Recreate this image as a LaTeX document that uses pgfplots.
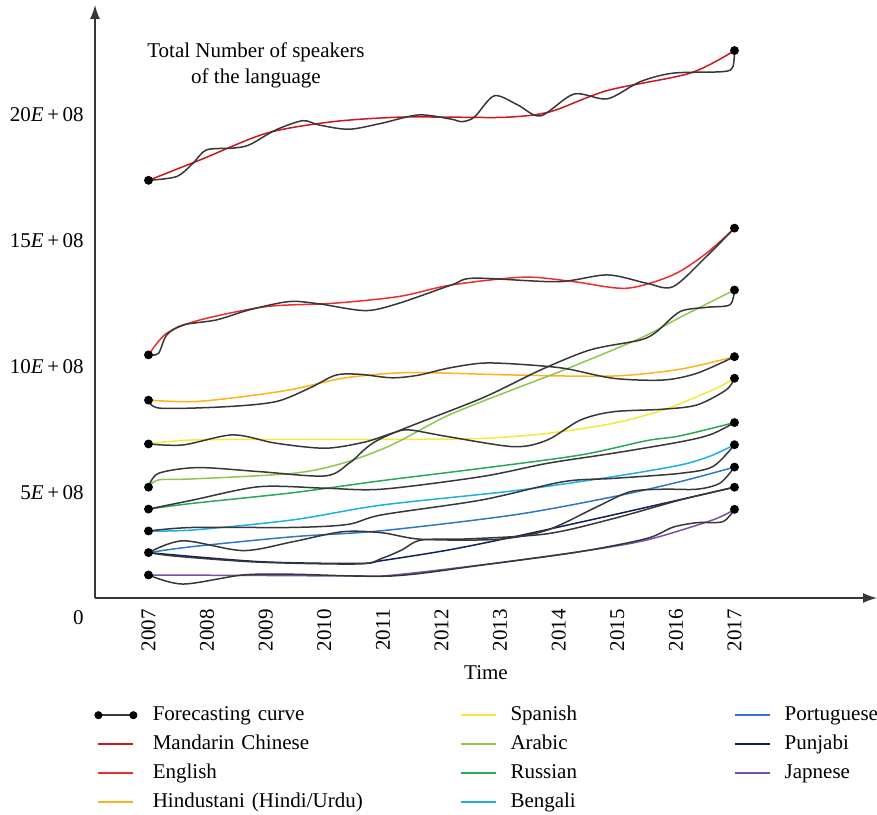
\documentclass[border=0pt]{standalone}
\usepackage{pgfplots}
\pgfplotsset{compat=1.18}
\usetikzlibrary{arrows.meta}
\usepackage{fontspec}
\setmainfont{Liberation Serif}

\definecolor{cMandarin}{RGB}{205,22,30}
\definecolor{cEnglish}{RGB}{240,45,45}
\definecolor{cHindi}{RGB}{255,178,25}
\definecolor{cSpanish}{RGB}{246,232,60}
\definecolor{cArabic}{RGB}{140,200,80}
\definecolor{cRussian}{RGB}{40,170,85}
\definecolor{cBengali}{RGB}{30,175,230}
\definecolor{cPortuguese}{RGB}{45,120,200}
\definecolor{cPunjabi}{RGB}{15,30,100}
\definecolor{cJapanese}{RGB}{120,80,170}
\definecolor{cForecast}{RGB}{55,55,55}

\pgfplotsset{
  lang/.style={smooth, line width=0.75pt, no marks, forget plot},
  fc/.style={smooth, cForecast, line width=0.75pt, no marks, forget plot},
}

\begin{document}
\fontsize{10.5}{13}\selectfont
\begin{tikzpicture}
\path[use as bounding box] (-47.5pt,-108pt) rectangle (391pt,299pt);
\begin{axis}[
  at={(0pt,0pt)}, anchor=south west,
  scale only axis, width=391pt, height=296.5pt,
  xmin=2006.087, xmax=2019.432, ymin=0.795, ymax=24.37,
  axis lines=left,
  axis line style={cForecast, line width=0.75pt, -{Latex[length=7pt,width=5pt]}},
  clip=false,
  xtick={2007,2008,2009,2010,2011,2012,2013,2014,2015,2016,2017},
  xticklabels={2007,2008,2009,2010,2011,2012,2013,2014,2015,2016,2017},
  ytick={5,10,15,20},
  yticklabels={5\textit{E}\,+\,08,10\textit{E}\,+\,08,15\textit{E}\,+\,08,20\textit{E}\,+\,08},
  major tick length=0pt,
  tick label style={font=\fontsize{10.5}{12}\selectfont},
  xticklabel style={rotate=90, anchor=east, inner sep=0pt},
  xticklabel shift=5.5pt,
  yticklabel style={anchor=east, inner sep=0pt},
  yticklabel shift=5.5pt,
  xlabel={Time},
  xlabel style={at={(axis description cs:0.5,0)}, anchor=center, yshift=-37.5pt, font=\fontsize{10.5}{12}\selectfont},
  legend style={at={(0,0)}, anchor=north west, xshift=-0.3pt, yshift=-53.6pt,
    draw=none, fill=none, inner sep=0pt, outer sep=0pt,
    column sep=0pt, row sep=4.5pt, font=\fontsize{10.5}{12}\selectfont,
    nodes={inner sep=0pt, text height=7.5pt, text depth=2.5pt}},
  legend cell align=left,
  legend columns=4, transpose legend,
  legend image code/.code={\draw[#1, line width=0.8pt] (0pt,0pt) -- (17.5pt,0pt); \path (24.75pt,0pt);},
]

% language series
\addplot[lang, cMandarin] coordinates {(2007,17.4) (2007.88,18.21) (2009.01,19.27) (2010.14,19.73) (2011.27,19.91) (2012.17,19.91) (2013.13,19.91) (2013.86,20.13) (2014.83,20.97) (2016.24,21.66) (2017,22.56)};
\addplot[lang, cEnglish] coordinates {(2007,10.46) (2007.31,11.32) (2007.88,11.85) (2009.01,12.38) (2010.14,12.51) (2011.27,12.78) (2012.17,13.24) (2013.41,13.55) (2014.26,13.37) (2015.16,13.11) (2015.95,13.64) (2016.52,14.50) (2017,15.50)};
\addplot[lang, cHindi] coordinates {(2007,8.66) (2007.76,8.60) (2008.61,8.80) (2009.46,9.09) (2010.31,9.53) (2011.15,9.73) (2011.83,9.75) (2013.24,9.66) (2014.93,9.62) (2016.07,9.89) (2017,10.39)};
\addplot[lang, cSpanish] coordinates {(2007,6.92) (2007.76,7.08) (2009.46,7.10) (2011.15,7.10) (2012.68,7.14) (2013.81,7.34) (2014.93,7.74) (2015.78,8.27) (2016.63,9.07) (2017,9.53)};
\addplot[lang, cArabic] coordinates {(2007,5.2) (2007.17,5.49) (2007.76,5.53) (2009.46,5.75) (2010.31,6.15) (2011.15,6.88) (2012.11,8.05) (2013.24,9.1) (2014.09,9.86) (2015.39,11.12) (2016.07,11.95) (2017,13.04)};
\addplot[lang, cRussian] coordinates {(2007,4.33) (2007.76,4.56) (2009.46,4.98) (2010.98,5.46) (2012.68,5.95) (2014.37,6.48) (2015.5,7.05) (2016.07,7.24) (2017,7.77)};
\addplot[lang, cBengali] coordinates {(2007,3.46) (2007.76,3.5) (2009.46,3.9) (2010.98,4.49) (2013.24,5.06) (2014.93,5.62) (2016.07,6.08) (2016.6,6.45) (2017,6.89)};
\addplot[lang, cPortuguese] coordinates {(2007,2.6) (2007.76,2.84) (2009.46,3.23) (2010.98,3.47) (2013.24,4.1) (2014.93,4.82) (2016.07,5.42) (2017,6.0)};
\addplot[lang, cPunjabi] coordinates {(2007,2.6) (2008.89,2.24) (2010.59,2.17) (2010.98,2.28) (2012.11,2.7) (2013.24,3.23) (2014.93,4.1) (2017,5.2)};
\addplot[lang, cJapanese] coordinates {(2007,1.71) (2009,1.69) (2010.59,1.67) (2011.15,1.7) (2012.68,2.11) (2014.37,2.64) (2015.5,3.1) (2016.63,3.9) (2017,4.32)};

% forecasting curves
\addplot[fc] coordinates {(2007,17.4) (2007.48,17.55) (2007.76,18.08) (2007.99,18.61) (2008.44,18.68) (2008.72,18.81) (2009.17,19.40) (2009.63,19.77) (2009.91,19.60) (2010.42,19.43) (2010.98,19.67) (2011.61,20.0) (2012.17,19.83) (2012.34,19.73) (2012.56,19.91) (2012.90,20.76) (2013.30,20.40) (2013.69,19.96) (2014.26,20.83) (2014.83,20.64) (2015.39,21.32) (2015.95,21.66) (2016.80,21.72) (2016.97,21.9) (2017,22.56)};
\addplot[fc] coordinates {(2007,10.46) (2007.17,10.52) (2007.31,11.25) (2007.59,11.65) (2008.16,11.85) (2008.72,12.25) (2009.40,12.58) (2009.91,12.49) (2010.70,12.22) (2011.27,12.51) (2012.17,13.24) (2012.56,13.51) (2013.98,13.37) (2014.83,13.64) (2015.50,13.31) (2015.95,13.17) (2016.52,14.37) (2017,15.50)};
\addplot[fc] coordinates {(2007,8.66) (2007.2,8.34) (2008.32,8.40) (2009.17,8.60) (2009.74,9.13) (2010.19,9.65) (2010.59,9.69) (2011.15,9.55) (2011.6,9.65) (2012.11,9.93) (2012.68,10.13) (2013.24,10.10) (2014.08,9.93) (2014.93,9.53) (2015.78,9.46) (2016.36,9.73) (2017,10.39)};
\addplot[fc] coordinates {(2007,6.92) (2007.59,6.88) (2008.44,7.28) (2009.17,6.95) (2010.02,6.75) (2010.7,7.0) (2011.15,7.34) (2011.44,7.48) (2012.11,7.21) (2013.24,6.81) (2013.81,7.08) (2014.37,7.87) (2014.93,8.20) (2015.78,8.30) (2016.36,8.47) (2016.86,9.07) (2017,9.53)};
\addplot[fc] coordinates {(2007,5.2) (2007.17,5.75) (2007.84,5.98) (2008.89,5.82) (2010.02,5.65) (2010.45,6.2) (2010.98,7.15) (2012.68,8.73) (2013.69,9.86) (2014.54,10.66) (2015.39,11.05) (2015.67,11.38) (2016.07,12.18) (2016.52,12.35) (2016.92,12.45) (2017,13.04)};
\addplot[fc] coordinates {(2007,4.33) (2007.76,4.69) (2008.89,5.22) (2010.02,5.16) (2010.98,5.12) (2012.68,5.62) (2013.81,6.15) (2014.93,6.55) (2016.07,7.0) (2016.6,7.3) (2017,7.77)};
\addplot[fc] coordinates {(2007,3.46) (2007.76,3.6) (2009.46,3.6) (2010.4,3.72) (2010.98,4.1) (2012.68,4.69) (2014.08,5.42) (2014.93,5.55) (2016.07,5.75) (2016.63,6.02) (2017,6.89)};
\addplot[fc] coordinates {(2007,2.6) (2007.59,3.07) (2008.61,2.68) (2009.46,3.03) (2010.31,3.43) (2010.98,3.39) (2011.66,3.13) (2012.96,3.13) (2013.81,3.5) (2014.66,4.43) (2015.22,5.02) (2015.78,5.12) (2016.36,5.12) (2016.75,5.36) (2017,6.0)};
\addplot[fc] coordinates {(2007,2.6) (2007.5,2.45) (2008.89,2.22) (2010.59,2.15) (2010.98,2.37) (2011.32,2.7) (2011.66,3.1) (2012.5,3.15) (2013.81,3.35) (2014.93,3.95) (2016.07,4.69) (2017,5.2)};
\addplot[fc] coordinates {(2007,1.71) (2007.59,1.35) (2008.61,1.71) (2009.46,1.74) (2011.15,1.67) (2012.68,2.1) (2014.37,2.64) (2015.5,3.16) (2015.95,3.61) (2016.36,3.79) (2016.8,3.83) (2017,4.32)};

% start and end points of the forecasts
\addplot[only marks, mark=*, mark size=2pt, black, forget plot] coordinates {
  (2007,17.4) (2007,10.46) (2007,8.66) (2007,6.92) (2007,5.2) (2007,4.33) (2007,3.46) (2007,2.6) (2007,1.71)
  (2017,22.56) (2017,15.5) (2017,13.04) (2017,10.39) (2017,9.53) (2017,7.77) (2017,6.89) (2017,6.0) (2017,5.2) (2017,4.32)};

% legend (the first entry also sets the wider first column)
\addlegendimage{legend image code/.code={\draw[cForecast, line width=0.9pt] (0pt,0pt) -- (17.5pt,0pt); \fill[black] (0pt,0pt) circle (1.8pt); \fill[black] (17.5pt,0pt) circle (1.8pt); \path (27pt,0pt);}}
\addlegendentry[text width=153.5pt]{Forecasting curve}
\addlegendimage{cMandarin}
\addlegendentry[text width=153.5pt]{Mandarin Chinese}
\addlegendimage{cEnglish}
\addlegendentry[text width=153.5pt]{English}
\addlegendimage{cHindi}
\addlegendentry[text width=153.5pt]{Hindustani (Hindi/Urdu)}
\addlegendimage{cSpanish}
\addlegendentry[text width=111.75pt]{Spanish}
\addlegendimage{cArabic}
\addlegendentry[text width=111.75pt]{Arabic}
\addlegendimage{cRussian}
\addlegendentry[text width=111.75pt]{Russian}
\addlegendimage{cBengali}
\addlegendentry[text width=111.75pt]{Bengali}
\addlegendimage{cPortuguese}
\addlegendentry{Portuguese}
\addlegendimage{cPunjabi}
\addlegendentry{Punjabi}
\addlegendimage{cJapanese}
\addlegendentry{Japnese}

\node[align=center, font=\fontsize{10.5}{13}\selectfont] at (axis cs:2008.834,21.95) {Total Number of speakers\\of the language};
\node[anchor=east, inner sep=0pt, font=\fontsize{10.5}{12}\selectfont] at ([xshift=-5.5pt]axis cs:2006.087,0) {0};
\end{axis}
\end{tikzpicture}
\end{document}
